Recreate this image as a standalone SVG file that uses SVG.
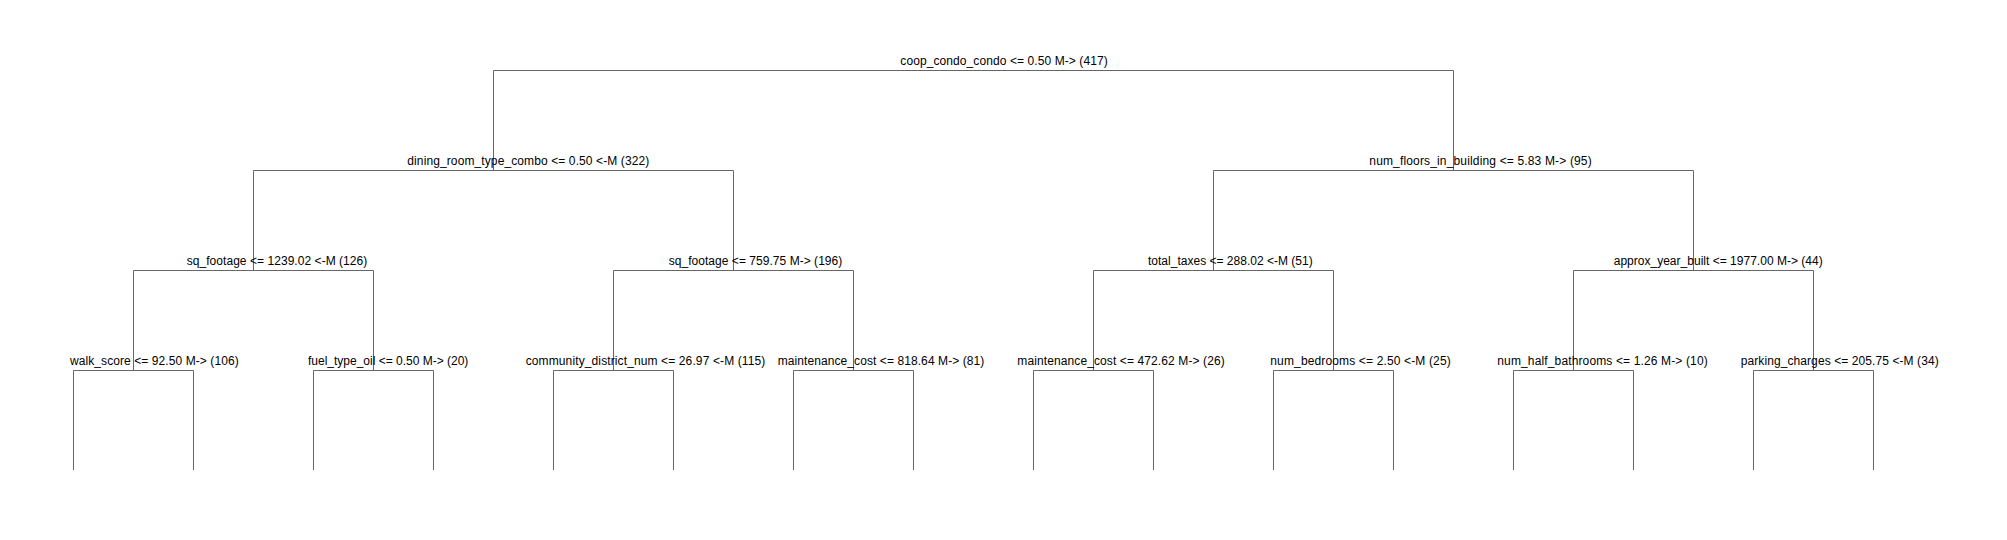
<svg xmlns="http://www.w3.org/2000/svg" width="2007" height="540" viewBox="0 0 2007 540">
<style>
.bg{fill:#ffffff}
.edge{fill:none;stroke:#666666;stroke-width:1}
.lbl{font-family:"Liberation Sans",Arial,sans-serif;font-size:12px;fill:#000000}
</style>
<rect class="bg" x="0" y="0" width="2007" height="540"/>
<g id="connectors">
<path class="edge" d="M493.5 170.5V70.5H1453.5V170.5"/>
<path class="edge" d="M253.5 270.5V170.5H733.5V270.5"/>
<path class="edge" d="M1213.5 270.5V170.5H1693.5V270.5"/>
<path class="edge" d="M133.5 370.5V270.5H373.5V370.5"/>
<path class="edge" d="M613.5 370.5V270.5H853.5V370.5"/>
<path class="edge" d="M1093.5 370.5V270.5H1333.5V370.5"/>
<path class="edge" d="M1573.5 370.5V270.5H1813.5V370.5"/>
<path class="edge" d="M73.5 470V370.5H193.5V470"/>
<path class="edge" d="M313.5 470V370.5H433.5V470"/>
<path class="edge" d="M553.5 470V370.5H673.5V470"/>
<path class="edge" d="M793.5 470V370.5H913.5V470"/>
<path class="edge" d="M1033.5 470V370.5H1153.5V470"/>
<path class="edge" d="M1273.5 470V370.5H1393.5V470"/>
<path class="edge" d="M1513.5 470V370.5H1633.5V470"/>
<path class="edge" d="M1753.5 470V370.5H1873.5V470"/>
</g>
<g id="n_root"><text class="lbl" x="900.3" y="65" textLength="207.4" lengthAdjust="spacing">coop_condo_condo &lt;= 0.50 M-&gt; (417)</text></g>
<g id="n_dining"><text class="lbl" x="407.3" y="165" textLength="242" lengthAdjust="spacing">dining_room_type_combo &lt;= 0.50 &lt;-M (322)</text></g>
<g id="n_floors"><text class="lbl" x="1369.3" y="165" textLength="222.4" lengthAdjust="spacing">num_floors_in_building &lt;= 5.83 M-&gt; (95)</text></g>
<g id="n_sqft1"><text class="lbl" x="186.7" y="265" textLength="180.6" lengthAdjust="spacing">sq_footage &lt;= 1239.02 &lt;-M (126)</text></g>
<g id="n_sqft2"><text class="lbl" x="668.7" y="265" textLength="173.6" lengthAdjust="spacing">sq_footage &lt;= 759.75 M-&gt; (196)</text></g>
<g id="n_taxes"><text class="lbl" x="1148" y="265" textLength="164.7" lengthAdjust="spacing">total_taxes &lt;= 288.02 &lt;-M (51)</text></g>
<g id="n_year"><text class="lbl" x="1613.7" y="265" textLength="209" lengthAdjust="spacing">approx_year_built &lt;= 1977.00 M-&gt; (44)</text></g>
<g id="n_walk"><text class="lbl" x="70" y="365" textLength="168.7" lengthAdjust="spacing">walk_score &lt;= 92.50 M-&gt; (106)</text></g>
<g id="n_fuel"><text class="lbl" x="308" y="365" textLength="160.3" lengthAdjust="spacing">fuel_type_oil &lt;= 0.50 M-&gt; (20)</text></g>
<g id="n_cdist"><text class="lbl" x="525.7" y="365" textLength="239.6" lengthAdjust="spacing">community_district_num &lt;= 26.97 &lt;-M (115)</text></g>
<g id="n_maint1"><text class="lbl" x="777.7" y="365" textLength="206.6" lengthAdjust="spacing">maintenance_cost &lt;= 818.64 M-&gt; (81)</text></g>
<g id="n_maint2"><text class="lbl" x="1017.3" y="365" textLength="207.4" lengthAdjust="spacing">maintenance_cost &lt;= 472.62 M-&gt; (26)</text></g>
<g id="n_bed"><text class="lbl" x="1270.3" y="365" textLength="180.4" lengthAdjust="spacing">num_bedrooms &lt;= 2.50 &lt;-M (25)</text></g>
<g id="n_half"><text class="lbl" x="1497.3" y="365" textLength="210.4" lengthAdjust="spacing">num_half_bathrooms &lt;= 1.26 M-&gt; (10)</text></g>
<g id="n_park"><text class="lbl" x="1740.7" y="365" textLength="198" lengthAdjust="spacing">parking_charges &lt;= 205.75 &lt;-M (34)</text></g>
</svg>
